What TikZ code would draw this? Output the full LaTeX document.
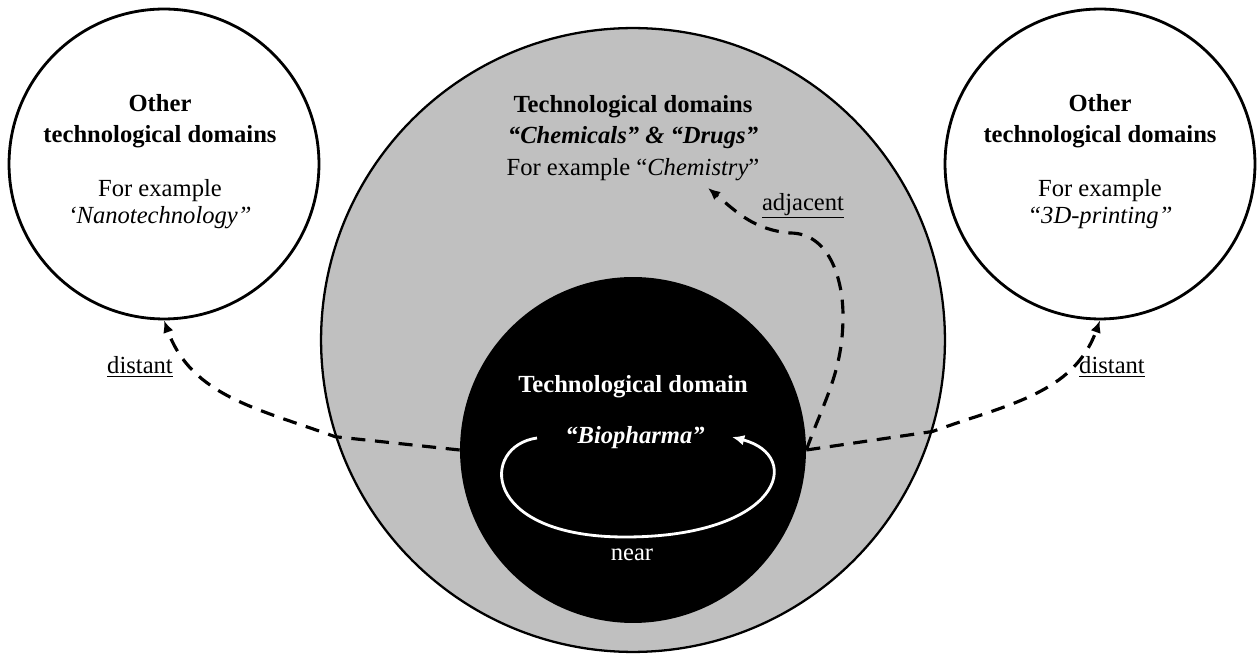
\documentclass[tikz,border=0pt]{standalone}
\usepackage{fontspec}
\setmainfont{Liberation Serif}
\usetikzlibrary{arrows.meta, positioning}
\definecolor{domaingray}{RGB}{192,192,192}

\begin{document}
\begin{tikzpicture}[x=0.02cm, y=0.02cm,
  domcircle/.style={circle, draw, line width=1.6pt, minimum size=6.2cm, inner sep=0pt},
  txt/.style={align=center, font=\fontsize{14}{18}\selectfont},
  link/.style={line width=1.8pt, dash pattern=on 8pt off 5.5pt, -{Latex[length=7pt, width=6pt]}}]
  \useasboundingbox (0,0) rectangle (1258,656);

  % === Main domains (centre) ===
  \node[circle, draw, fill=domaingray, line width=1.3pt, minimum size=12.48cm, inner sep=0pt] (chem) at (633,316) {};
  \node[circle, fill=black, minimum size=6.92cm, inner sep=0pt] (bio) at (633,206) {};

  \node[txt] (chemtxt) at (633,518) {\textbf{Technological domains}\\
    \textbf{\textit{“Chemicals” \& “Drugs”}}\\
    For example “\textit{Chemistry}”};

  \node[txt, text=white] (biotitle) at (633,269) {\textbf{Technological domain}};
  \node[txt, text=white] (biotxt) at (635,218) {\textbf{\textit{“Biopharma”}}};
  \node[txt, text=white] (neartxt) at (632,101) {near};

  % near: loop inside the black domain
  \coordinate (loopin) at (537,218);
  \coordinate (loopbot) at (625,119);
  \coordinate (loopout) at (732,219);
  \draw[white, line width=1.6pt, -{Latex[length=7pt, width=6pt]}]
    (loopin) .. controls (480,210) and (480,119) .. (loopbot)
    .. controls (780,119) and (805,200) .. (loopout);

  % === Other domains (left and right) ===
  \node[domcircle] (left) at (164,492) {};
  \node[txt] (lefthead) at (160,535) {\textbf{Other}\\\textbf{technological domains}};
  \node[txt] (leftex) at (160,452) {For example\\[-3pt]\textit{‘Nanotechnology”}};

  \node[domcircle] (right) at (1100,492) {};
  \node[txt] (righthead) at (1100,535) {\textbf{Other}\\\textbf{technological domains}};
  \node[txt] (rightex) at (1100,452) {For example\\[-3pt]\textit{“3D-printing”}};

  % adjacent
  \coordinate (adjmid) at (843,340);
  \coordinate (adjturn) at (790,423);
  \coordinate (adjtip) at (708,468);
  \draw[link] (bio.east) to[out=70, in=-90] (adjmid) to[out=90, in=0] (adjturn)
    to[out=175, in=-40] (adjtip);
  \node[txt] (adjlabel) at (803,450) {\underline{adjacent}};

  % distant
  \draw[link] (bio.west) -- (chem.198) to[out=160, in=-70] (left.south);
  \draw[link] (bio.east) -- (chem.343) to[out=20, in=-110] (right.south);
  \node[txt] (distleft) at (140,289) {\underline{distant}};
  \node[txt] (distright) at (1112,289) {\underline{distant}};
\end{tikzpicture}
\end{document}
